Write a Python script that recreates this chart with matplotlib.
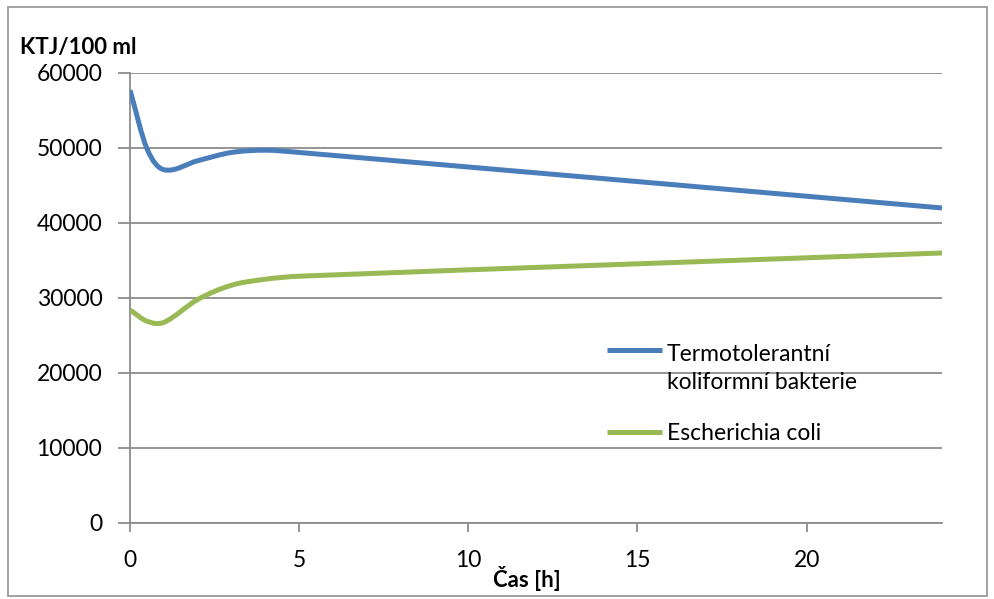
import matplotlib
matplotlib.use("Agg")
import matplotlib.pyplot as plt
from matplotlib.path import Path
from matplotlib.patches import PathPatch, Rectangle
from matplotlib.lines import Line2D
import numpy as np

plt.rcParams['font.family'] = ['Lato', 'DejaVu Sans']

# hodnoty odečtené z měření
cas_h = [0, 0.5, 1, 2, 3, 4, 5, 24]
termotolerantni = [57700, 49900, 47100, 48300, 49400, 49700, 49400, 42000]
e_coli = [28400, 26900, 26750, 29800, 31700, 32500, 32900, 36000]

nazvy = ["Termotolerantní\nkoliformní bakterie", "Escherichia coli"]
barvy = ["#4a7ebb", "#98b954"]
y_ticks = [0, 10000, 20000, 30000, 40000, 50000, 60000]
x_ticks = [0, 5, 10, 15, 20]


def hladka_cesta(x, y):
    """Bezierova cesta procházející body (hladká čára jako v Excelu)."""
    x = np.asarray(x, float)
    y = np.asarray(y, float)
    n = len(x)
    m = np.zeros(n)
    m[0] = (y[1] - y[0]) / (x[1] - x[0])
    m[-1] = (y[-1] - y[-2]) / (x[-1] - x[-2])
    for i in range(1, n - 1):
        m[i] = (y[i + 1] - y[i - 1]) / (x[i + 1] - x[i - 1])
    verts = [(x[0], y[0])]
    codes = [Path.MOVETO]
    for i in range(n - 1):
        h = x[i + 1] - x[i]
        verts += [(x[i] + h / 3, y[i] + m[i] * h / 3),
                  (x[i + 1] - h / 3, y[i + 1] - m[i + 1] * h / 3),
                  (x[i + 1], y[i + 1])]
        codes += [Path.CURVE4] * 3
    return Path(verts, codes)


fig = plt.figure(figsize=(9.95, 5.99), dpi=100)
ax = fig.add_axes([0.1307, 0.1269, 0.816, 0.7513])

for data, barva in zip([termotolerantni, e_coli], barvy):
    ax.add_patch(PathPatch(hladka_cesta(cas_h, data), facecolor='none',
                           edgecolor=barva, lw=3.6, capstyle='butt',
                           joinstyle='round', zorder=3))

ax.set_xlim(0, 24)
ax.set_ylim(0, 60000)
ax.set_yticks(y_ticks)
ax.set_yticklabels([str(v) for v in y_ticks])
ax.set_xticks(x_ticks)
ax.set_xticklabels([str(v) for v in x_ticks])

seda = "#8c8c8c"
ax.grid(axis='y', color=seda, lw=1.3)
ax.set_axisbelow(True)
for s in ['top', 'right']:
    ax.spines[s].set_visible(False)
for s in ['left', 'bottom']:
    ax.spines[s].set_color(seda)
    ax.spines[s].set_linewidth(1.3)
ax.tick_params(axis='y', length=9, width=1.3, color=seda, pad=11,
               labelsize=16.5)
ax.tick_params(axis='x', length=6.5, width=1.3, color=seda, pad=13,
               labelsize=16.5)

fig.text(0.02, 0.921, "KTJ/100 ml", fontsize=16, fontweight='bold',
         va='center', ha='left')
fig.text(0.53, 0.035, "Čas [h]", fontsize=16, fontweight='bold',
         va='center', ha='center')

# legenda - čára zarovnaná s prvním řádkem popisku
leg_x0, leg_x1, text_x = 0.610, 0.665, 0.670
car_y = [0.4157, 0.2788]
text_y = [0.3848, 0.2771]
for nazev, barva, cy, ty in zip(nazvy, barvy, car_y, text_y):
    fig.add_artist(Line2D([leg_x0, leg_x1], [cy, cy], color=barva, lw=3.6,
                          solid_capstyle='butt', transform=fig.transFigure))
    fig.text(text_x, ty, nazev, fontsize=16.5, va='center', ha='left',
             linespacing=1.45)

# rámeček grafu
fig.patches.append(Rectangle((0.008, 0.005), 0.984, 0.983,
                             transform=fig.transFigure, fill=False,
                             edgecolor="#9a9a9a", lw=1.3))

fig.savefig("out.png", dpi=100)
